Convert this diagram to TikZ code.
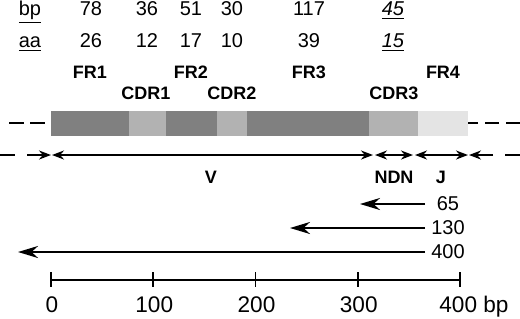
\documentclass[tikz,border=0pt]{standalone}
\usepackage{fontspec}
\setmainfont{Liberation Sans}
\usepackage{xcolor}
\definecolor{frgris}{HTML}{808080}
\definecolor{cdrgris}{HTML}{B2B2B2}
\definecolor{jgris}{HTML}{E4E4E4}
\usepackage{tikz}
\usetikzlibrary{arrows.meta}

\begin{document}
\begin{tikzpicture}[x=0.5pt,y=-0.5pt,
  every node/.style={anchor=base,inner sep=0pt,font=\fontsize{10}{11}\selectfont},
  reg/.style={font=\fontsize{9}{10}\selectfont\bfseries},
  axe/.style={font=\fontsize{11.3}{12}\selectfont},
  tiret/.style={line width=0.8pt,dash pattern=on 7.5pt off 3pt},
  pt/.style={-{Stealth[length=6pt,width=4.5pt]},line width=1pt},
  gene/.style={{Stealth[length=6pt,width=4.5pt]}-{Stealth[length=6pt,width=4.5pt]},
               line width=1pt,shorten <=0.5pt,shorten >=0.5pt},
  fl/.style={-{Stealth[length=10pt,width=6pt]},line width=1.3pt}
]
\useasboundingbox (0,0) rectangle (520,318);

% longueurs
\node (bp) at (30,15) {\underline{bp}};
\node (aa) at (30,47) {\underline{aa}};
\foreach \n/\x/\b/\a in {1/91/78/26,2/147/36/12,3/191/51/17,4/232/30/10,5/309/117/39}{
  \node (bp\n) at (\x,15) {\b};
  \node (aa\n) at (\x,47) {\a};
}
\node (bp6) at (393,15) {\underline{\textit{45}}};
\node (aa6) at (393,47) {\underline{\textit{15}}};

% regions
\node[reg] (fr1) at (90,78) {FR1};
\node[reg] (fr2) at (191,78) {FR2};
\node[reg] (fr3) at (309,78) {FR3};
\node[reg] (fr4) at (443,78) {FR4};
\node[reg] (cdr1) at (146,99) {CDR1};
\node[reg] (cdr2) at (232,99) {CDR2};
\node[reg] (cdr3) at (394,99) {CDR3};

% barre
\foreach \a/\b/\c in {51/129/frgris,129/166/cdrgris,166/217/frgris,217/247/cdrgris,
                      247/369/frgris,369/418/cdrgris,418/468/jgris}
  \fill[\c] (\a,111) rectangle (\b,136);
\draw[tiret] (9,123) -- (45,123);
\draw[tiret,dash pattern=on 7pt off 3.5pt] (520,123) -- (468,123);

% segments V, NDN, J
\coordinate (g0) at (0,155);
\coordinate (g1) at (15,155);
\coordinate (g2) at (27,155);
\coordinate (v0) at (51,155);
\coordinate (v1) at (374,155);
\coordinate (j0) at (414,155);
\coordinate (j1) at (469,155);
\coordinate (d0) at (493,155);
\coordinate (d1) at (505,155);
\coordinate (d2) at (520,155);
\draw[line width=1pt] (g0) -- (g1);
\draw[pt] (g2) -- (v0);
\draw[gene] (v0) -- (v1);
\draw[gene] (v1) -- (j0);
\draw[gene] (j0) -- (j1);
\draw[pt] (d0) -- (j1);
\draw[line width=1pt] (d1) -- (d2);
\node[reg] (v) at (211,183) {V};
\node[reg] (ndn) at (394,183) {NDN};
\node[reg] (j) at (441,183) {J};

% fragments
\foreach \y/\x/\t in {204/360/65,228/290/130,252/18/400}{
  \coordinate (f\t) at (425,\y);
  \draw[fl] (f\t) -- (\x,\y);
  \node (l\t) at (448,\y+6.5) {\t};
}

% echelle
\draw[line width=0.8pt] (51,280) -- (460,280);
\foreach \v in {0,100,200,300}{
  \draw[line width=0.8pt] (51+\v*1.0225,272) -- (51+\v*1.0225,287);
  \node[axe] (e\v) at (52+\v*1.0225,312) {\v};
}
\draw[line width=0.8pt] (460,272) -- (460,287);
\node[axe,anchor=base west] (e400) at (439,312) {400 bp};
\end{tikzpicture}
\end{document}
